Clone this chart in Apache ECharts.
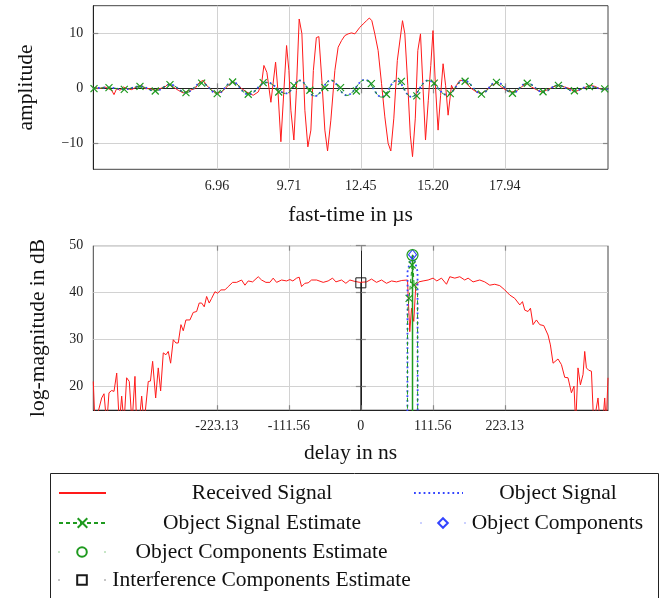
<!DOCTYPE html>
<html>
<head>
<meta charset="utf-8">
<script src="https://cdn.jsdelivr.net/npm/echarts@6/dist/echarts.min.js"></script>
<style>
  html, body { margin: 0; padding: 0; background: #fff; }
  #main { width: 672px; height: 598px; }
</style>
</head>
<body>
<div id="main"></div>
<script>
// upper panel: fast-time signal (µs, amplitude)
const rxTime = [
  2.244, 2.309, 2.499, 2.690, 2.816, 2.945, 3.033, 3.136, 3.262, 3.388,
  3.517, 3.708, 3.898, 4.089, 4.215, 4.405, 4.596, 4.787, 4.977, 5.103,
  5.294, 5.484, 5.675, 5.930, 6.121, 6.311, 6.437, 6.567, 6.757, 6.948,
  7.139, 7.329, 7.520, 7.710, 7.901, 8.092, 8.343, 8.534, 8.663, 8.751,
  8.865, 9.018, 9.197, 9.285, 9.399, 9.514, 9.616, 9.704, 9.780, 9.895,
  9.990, 10.097, 10.200, 10.314, 10.428, 10.543, 10.638, 10.752, 10.848, 10.962,
  11.076, 11.179, 11.305, 11.458, 11.583, 11.713, 11.839, 11.965, 12.094, 12.220,
  12.296, 12.411, 12.536, 12.666, 12.773, 12.868, 12.982, 13.108, 13.238, 13.364,
  13.489, 13.592, 13.707, 13.840, 14.038, 14.126, 14.240, 14.336, 14.420, 14.526,
  14.622, 14.724, 14.812, 14.915, 15.022, 15.117, 15.201, 15.289, 15.395, 15.491,
  15.586, 15.681, 15.777, 15.906, 15.994, 16.097, 16.223, 16.348, 16.478, 16.669,
  16.859, 17.050, 17.241, 17.431, 17.622, 17.812, 18.003, 18.194, 18.384, 18.575,
  18.765, 18.956, 19.146, 19.337, 19.528, 19.779, 19.970, 20.225, 20.416, 20.606,
  20.797, 20.988, 21.178, 21.369, 21.559, 21.750, 21.876
]
const rxAmp = [
  0.18, 0.13, -0.05, 0.24, -0.05, -0.36, -1.15, -0.05, -0.36, 0.24,
  -0.05, -0.24, 0.24, 0.55, -0.05, -0.05, -0.36, -0.05, 0.24, 0.85,
  0.24, -0.36, -0.85, -0.36, -0.05, 1.15, 1.45, 0.55, -0.36, -0.96,
  -0.67, 0.24, 1.15, 0.85, -0.05, -0.67, -1.27, -0.67, 0.85, 4.18,
  2.91, -2.55, 4.78, -0.36, -9.76, -0.36, 7.82, 3.27, -4.0, -9.45,
  -0.36, 12.67, 10.0, -4.0, -10.7, -7.64, 3.27, 9.27, 9.45, 1.45,
  -7.64, -11.45, -5.82, 3.27, 7.51, 8.73, 9.64, 9.95, 10.13, 9.95,
  10.24, 11.15, 11.76, 12.36, 12.85, 12.36, 9.95, 6.91, 0.85, -5.22,
  -10.05, -11.45, -5.45, 5.09, 12.36, 10.0, 0.55, -8.55, -12.49, -5.45,
  6.91, 9.95, 0.91, -9.45, -2.18, 4.18, 10.55, 0.91, -7.64, -1.27,
  4.49, 0.55, -4.91, 0.55, -0.36, 0.55, 1.45, 1.45, 0.85, -0.05,
  -0.67, -0.96, -0.36, 0.55, 0.96, 0.24, -0.36, -0.67, -0.49, 0.24,
  0.96, 0.24, -0.24, -0.67, -0.36, 0.24, 0.55, 0.24, -0.05, -0.67,
  -0.24, 0.13, 0.55, 0.36, -0.05, -0.24, -0.05
]
const objTime = [
  2.244, 2.842, 3.426, 4.024, 4.607, 5.168, 5.778, 6.376, 6.971, 7.558,
  8.153, 8.865, 9.590, 10.123, 10.695, 11.305, 11.915, 12.601, 13.238, 13.810,
  14.381, 15.014, 15.727, 16.375, 17.050, 17.622, 18.232, 18.788, 19.398, 19.970,
  20.580, 21.178, 21.750, 21.876
]
const objAmp = [
  0, 0.13, -0.18, 0.36, -0.49, 0.67, -0.78, 0.96, -0.96, 1.15,
  -1.09, 1.09, -0.91, 1.45, -1.45, 1.45, -1.27, 1.58, -1.58, 1.45,
  -1.58, 1.45, -1.18, 1.45, -0.96, 1.15, -0.85, 0.96, -0.67, 0.55,
  -0.49, 0.36, -0.24, -0.09
]
const estAmp = [
  0, 0.1, -0.15, 0.33, -0.47, 0.7, -0.8, 0.98, -0.95, 1.18,
  -1.1, 1.05, -0.95, 1.4, -1.4, 1.5, -1.3, 1.55, -1.6, 1.42,
  -1.55, 1.4, -1.2, 1.5, -1.0, 1.12, -0.88, 0.95, -0.7, 0.58,
  -0.5, 0.33, -0.22, -0.08
]
const estMarkTime = [
  2.271, 2.842, 3.426, 4.024, 4.607, 5.168, 5.778, 6.376, 6.971, 7.558,
  8.153, 8.724, 9.315, 9.895, 10.505, 11.076, 11.675, 12.277, 12.849, 13.428,
  13.993, 14.583, 15.251, 15.860, 16.425, 17.050, 17.622, 18.232, 18.796, 19.398,
  19.985, 20.595, 21.167, 21.750
]
const estMarkAmp = [
  -0.05, 0.13, -0.18, 0.36, -0.49, 0.67, -0.78, 0.96, -0.96, 1.15,
  -1.09, 1.04, -0.67, 0.49, -0.36, 0.13, 0.13, -0.49, 0.85, -1.09,
  1.27, -1.39, 0.96, -0.96, 1.3, -1.05, 1.1, -0.9, 0.92, -0.62,
  0.55, -0.45, 0.3, -0.1
]
const timeTicks = [6.96, 9.71, 12.45, 15.20, 17.94]
const ampTicks = [-10, 0, 10]

// lower panel: delay spectrum (ns, dB)
const rxDelay = [
  -414.8, -412.2, -401.8, -398.2, -394.0, -390.5, -386.3, -382.7, -378.5, -374.5,
  -370.8, -367.2, -363.1, -359.0, -354.8, -350.2, -347.6, -344.0, -339.8, -336.2,
  -333.1, -329.6, -326.2, -322.8, -318.1, -314.1, -310.4, -306.3, -302.2, -298.6,
  -294.9, -290.8, -286.7, -283.1, -278.9, -275.3, -271.2, -265.0, -259.9, -254.6,
  -250.6, -246.8, -242.8, -239.1, -235.1, -231.3, -226.2, -222.0, -216.9, -210.7,
  -205.6, -198.8, -192.6, -184.9, -179.7, -174.6, -167.8, -159.1, -153.9, -147.2,
  -141.0, -135.9, -130.6, -122.9, -115.1, -110.0, -105.4, -99.6, -95.6, -91.9,
  -86.8, -81.7, -76.4, -68.6, -58.4, -50.7, -43.9, -38.7, -29.9, -23.2,
  -17.0, -9.3, -1.5, 8.8, 16.6, 24.3, 32.1, 39.8, 47.6, 55.3,
  63.5, 72.4, 73.3, 75.9, 78.6, 82.1, 85.2, 89.9, 96.5, 104.3,
  112.0, 117.8, 125.0, 132.8, 137.9, 145.7, 153.4, 161.1, 166.3, 174.0,
  184.4, 192.1, 199.9, 207.6, 215.4, 223.1, 230.9, 238.6, 246.4, 250.6,
  254.1, 259.2, 263.0, 267.0, 272.2, 277.4, 283.6, 290.2, 293.9, 298.0,
  305.7, 311.0, 316.1, 321.2, 326.5, 330.5, 333.1, 336.7, 340.4, 344.5,
  347.1, 349.7, 353.3, 357.5, 361.0, 367.7, 371.1, 375.0, 378.1, 380.4,
  383.2
]
const rxMag = [
  21.1, 12, 17.6, 18.5, 12, 18.7, 19.2, 19.0, 22.9, 12,
  18, 12, 21.9, 21.1, 12, 22.2, 12, 12, 18, 12,
  12, 21.1, 21.2, 25.4, 17.6, 24, 19.1, 27.2, 26.8, 27.5,
  25, 30, 29.3, 29.3, 33.2, 31.9, 34.2, 34.2, 35.8, 36,
  37.8, 37.8, 37, 39.2, 37.8, 38.8, 40.2, 39.9, 40.6, 40.6,
  41.3, 42.2, 42.2, 42.7, 41.6, 42.5, 42.3, 43.4, 42.7, 42.2,
  42.2, 43.1, 42.2, 42.7, 42.5, 42.8, 42.5, 43.1, 43.3, 41.3,
  42, 42.1, 42.7, 42.7, 42.2, 42.5, 43.1, 42.3, 42.7, 42,
  42.7, 42.4, 42.2, 42.3, 42.9, 42.2, 42.7, 42, 42.5, 42.3,
  42.6, 42.7, 39.5, 31.7, 36.7, 33.9, 41.6, 42.3, 42.5, 42.7,
  43.1, 42.5, 43.1, 41.8, 43.4, 43.1, 43.4, 42.7, 43.1, 42.3,
  42.7, 42.3, 41.6, 41.8, 41.5, 40.6, 39.5, 38.8, 37.4, 38.1,
  36.3, 36, 36.7, 33.2, 34.2, 33.2, 33, 31, 28.9, 25,
  25.9, 24.7, 22, 21.9, 18.7, 20.1, 12, 24, 20.4, 22.6,
  27.5, 24, 23.5, 23.3, 12, 17.6, 12, 12, 17.6, 12,
  21.9
]
const objDelay = [-414.8, 71.8, 72.4, 76.0, 80.1, 84.2, 87.9, 88.5, 383.2]
const objMag = [-40, -40, 44.5, 46.5, 48.1, 46.5, 44.5, -40, -40]
const estDelay = [-414.8, 72.0, 72.4, 74.8, 79.5, 80.1, 82.6, 87.9, 88.3, 383.2]
const estMag = [-40, -40, 36, 38.8, 45.9, 47.6, 41.6, 40, -40, -40]
const estMarkDelay = [74.8, 79.5, 82.6]
const estMarkMag = [38.8, 45.9, 41.6]
const compDelay = [80.1]
const compMag = [48.1]
const compEstDelay = [80.1]
const compEstMag = [48.0]
const interfDelay = [0]
const interfMag = [42.1]
const delayTicks = [-223.13, -111.56, 0, 111.56, 223.13]
const magTicks = [20, 30, 40, 50]

const FONT = 'Liberation Serif'
const BIG = 21.5
const RED = '#ff1a1a'
const BLUE = '#3344ff'
const GREEN = '#1f9a1f'
const BLACK = '#1a1a1a'
const CROSS = 'path://M0,0L10,10M10,0L0,10'
const STEM_FLOOR = -40

const pairs = (xs, ys) => xs.map((x, i) => [x, ys[i]])
const stems = (xs, ys) => xs.flatMap((x, i) => [{ value: [x, STEM_FLOOR], symbol: 'none' }, [x, ys[i]]])

const tickText = { fontFamily: FONT, fontSize: 14, color: '#222' }
const nameText = { fontFamily: FONT, fontSize: BIG, color: '#111' }

function axis (gridIndex, position, min, max, ticks, main) {
  const a = {
    type: 'value', gridIndex, position, min, max,
    axisLine: { show: false },
    axisTick: { show: true, inside: true, length: 5, customValues: ticks, lineStyle: { color: '#888', width: 1.2 } },
    axisLabel: { show: false, customValues: ticks },
    splitLine: { show: false }
  }
  if (main) {
    a.axisLine = { show: true, lineStyle: { color: '#222', width: 1 } }
    a.axisLabel = Object.assign({ show: true, customValues: ticks, margin: 9 }, tickText)
    a.splitLine = { show: true, lineStyle: { color: '#d2d2d2', width: 1 } }
    a.nameLocation = 'middle'
    a.nameTextStyle = nameText
  }
  return a
}

const xTop = axis(0, 'bottom', 2.244, 21.876, timeTicks, true)
xTop.name = 'fast-time in µs'
xTop.nameGap = 35
xTop.axisLabel.margin = 10
xTop.axisLabel.formatter = v => v.toFixed(2)
const xBot = axis(1, 'bottom', -414.8, 383.2, delayTicks, true)
xBot.name = 'delay in ns'
xBot.nameGap = 32
xBot.axisLabel.formatter = v => v === 0 ? '0' : v.toFixed(2)
const yTop = axis(0, 'left', -14.8, 15.1, ampTicks, true)
yTop.name = 'amplitude'
yTop.nameGap = 56
yTop.axisLabel.margin = 10
yTop.axisLabel.formatter = v => v < 0 ? '\u2212' + (-v) : String(v)
const yBot = axis(1, 'left', 15, 50, magTicks, true)
yBot.name = 'log-magnitude in dB'
yBot.nameGap = 44
yBot.axisLabel.margin = 10

const frame = { show: true, borderColor: '#444', borderWidth: 1, backgroundColor: 'transparent', outerBoundsMode: 'none' }

// legend: text centred in two columns like the original box
const ctx = document.createElement('canvas').getContext('2d')
ctx.font = BIG + 'px "' + FONT + '"'
const legendBase = { orient: 'horizontal', padding: 0, itemHeight: 12, itemGap: 0, selectedMode: false }
function legendEntry (name, left, top, width, textCenter, extra) {
  const pad = Math.max(0, textCenter - ctx.measureText(name).width / 2 - (left + width + 5))
  return Object.assign({}, legendBase, {
    data: [name], left, top, itemWidth: width,
    textStyle: { fontFamily: FONT, fontSize: BIG, color: '#111', padding: [0, 0, 0, pad] }
  }, extra)
}
const dotEnds = { lineStyle: { type: [1, 45], width: 1 } }
const noMark = { itemStyle: { opacity: 0 } }

const option = {
  animation: false,
  backgroundColor: '#fff',
  grid: [
    Object.assign({ left: 93.3, top: 5.7, width: 514.7, height: 163.6 }, frame),
    Object.assign({ left: 93.3, top: 245.7, width: 514.7, height: 164.5 }, frame)
  ],
  xAxis: [
    xTop, xBot,
    axis(0, 'top', 2.244, 21.876, timeTicks, false),
    axis(1, 'top', -414.8, 383.2, delayTicks, false)
  ],
  yAxis: [
    yTop, yBot,
    axis(0, 'right', -14.8, 15.1, ampTicks, false),
    axis(1, 'right', 15, 50, magTicks, false)
  ],
  graphic: [{
    type: 'rect', z: 0,
    shape: { x: 50.5, y: 473.5, width: 608, height: 140 },
    style: { fill: 'none', stroke: '#222', lineWidth: 1 }
  }],
  legend: [
    legendEntry('Received Signal', 58, 482, 47, 261, noMark),
    legendEntry('Object Signal', 413, 482, 49, 557, noMark),
    legendEntry('Object Signal Estimate', 58, 512, 47, 261),
    legendEntry('Object Components', 420, 512, 45, 557, { lineStyle: { type: [1, 43], width: 1 } }),
    legendEntry('Object Components Estimate', 58, 541, 47, 261, dotEnds),
    legendEntry('Interference Components Estimate', 58, 569, 47, 261, dotEnds)
  ],
  series: [
    {
      name: 'Received Signal', type: 'line', xAxisIndex: 0, yAxisIndex: 0,
      data: pairs(rxTime, rxAmp), symbol: 'none',
      lineStyle: { color: RED, width: 1 }, itemStyle: { color: RED }
    },
    {
      name: 'Object Signal', type: 'line', xAxisIndex: 0, yAxisIndex: 0,
      data: pairs(objTime, objAmp), symbol: 'none', smooth: 0.4,
      lineStyle: { color: BLUE, width: 1.8, type: [1.8, 3] }, itemStyle: { color: BLUE }
    },
    {
      name: 'Object Signal Estimate', type: 'line', xAxisIndex: 0, yAxisIndex: 0,
      data: pairs(objTime, estAmp), symbol: CROSS, symbolSize: 8, showSymbol: false, smooth: 0.4,
      lineStyle: { color: GREEN, width: 1, type: [4, 3] },
      itemStyle: { color: 'transparent', borderColor: GREEN, borderWidth: 1.2 }
    },
    {
      name: 'Object Signal Estimate', type: 'line', xAxisIndex: 0, yAxisIndex: 0,
      data: pairs(estMarkTime, estMarkAmp), symbol: CROSS, symbolSize: 7,
      lineStyle: { opacity: 0 },
      itemStyle: { color: 'transparent', borderColor: GREEN, borderWidth: 1.2 }
    },
    {
      name: 'Received Signal', type: 'line', xAxisIndex: 1, yAxisIndex: 1,
      data: pairs(rxDelay, rxMag), symbol: 'none',
      lineStyle: { color: RED, width: 1 }, itemStyle: { color: RED }
    },
    {
      name: 'Interference Components Estimate', type: 'line', xAxisIndex: 1, yAxisIndex: 1,
      data: stems(interfDelay, interfMag), symbol: 'rect', symbolSize: 10,
      lineStyle: { color: BLACK, width: 1 },
      itemStyle: { color: 'transparent', borderColor: BLACK, borderWidth: 1 }
    },
    {
      name: 'Object Signal', type: 'line', xAxisIndex: 1, yAxisIndex: 1,
      data: pairs(objDelay, objMag), symbol: 'none',
      lineStyle: { color: BLUE, width: 1.8, type: [1.8, 3] }, itemStyle: { color: BLUE }
    },
    {
      name: 'Object Signal Estimate', type: 'line', xAxisIndex: 1, yAxisIndex: 1,
      data: pairs(estDelay, estMag), symbol: CROSS, symbolSize: 8, showSymbol: false,
      lineStyle: { color: GREEN, width: 1, type: [4, 3] },
      itemStyle: { color: 'transparent', borderColor: GREEN, borderWidth: 1.2 }
    },
    {
      name: 'Object Signal Estimate', type: 'line', xAxisIndex: 1, yAxisIndex: 1,
      data: pairs(estMarkDelay, estMarkMag), symbol: CROSS, symbolSize: 7,
      lineStyle: { opacity: 0 },
      itemStyle: { color: 'transparent', borderColor: GREEN, borderWidth: 1.2 }
    },
    {
      name: 'Object Components', type: 'line', xAxisIndex: 1, yAxisIndex: 1,
      data: stems(compDelay, compMag), symbol: 'diamond', symbolSize: [8, 10],
      lineStyle: { color: BLUE, width: 1 },
      itemStyle: { color: 'transparent', borderColor: BLUE, borderWidth: 1.2 }
    },
    {
      name: 'Object Components Estimate', type: 'line', xAxisIndex: 1, yAxisIndex: 1,
      data: stems(compEstDelay, compEstMag), symbol: 'circle', symbolSize: 11,
      lineStyle: { color: GREEN, width: 1.5 },
      itemStyle: { color: 'transparent', borderColor: GREEN, borderWidth: 1.2 }
    }
  ]
}

const myChart = echarts.init(document.getElementById('main'))
myChart.setOption(option)
</script>
</body>
</html>
